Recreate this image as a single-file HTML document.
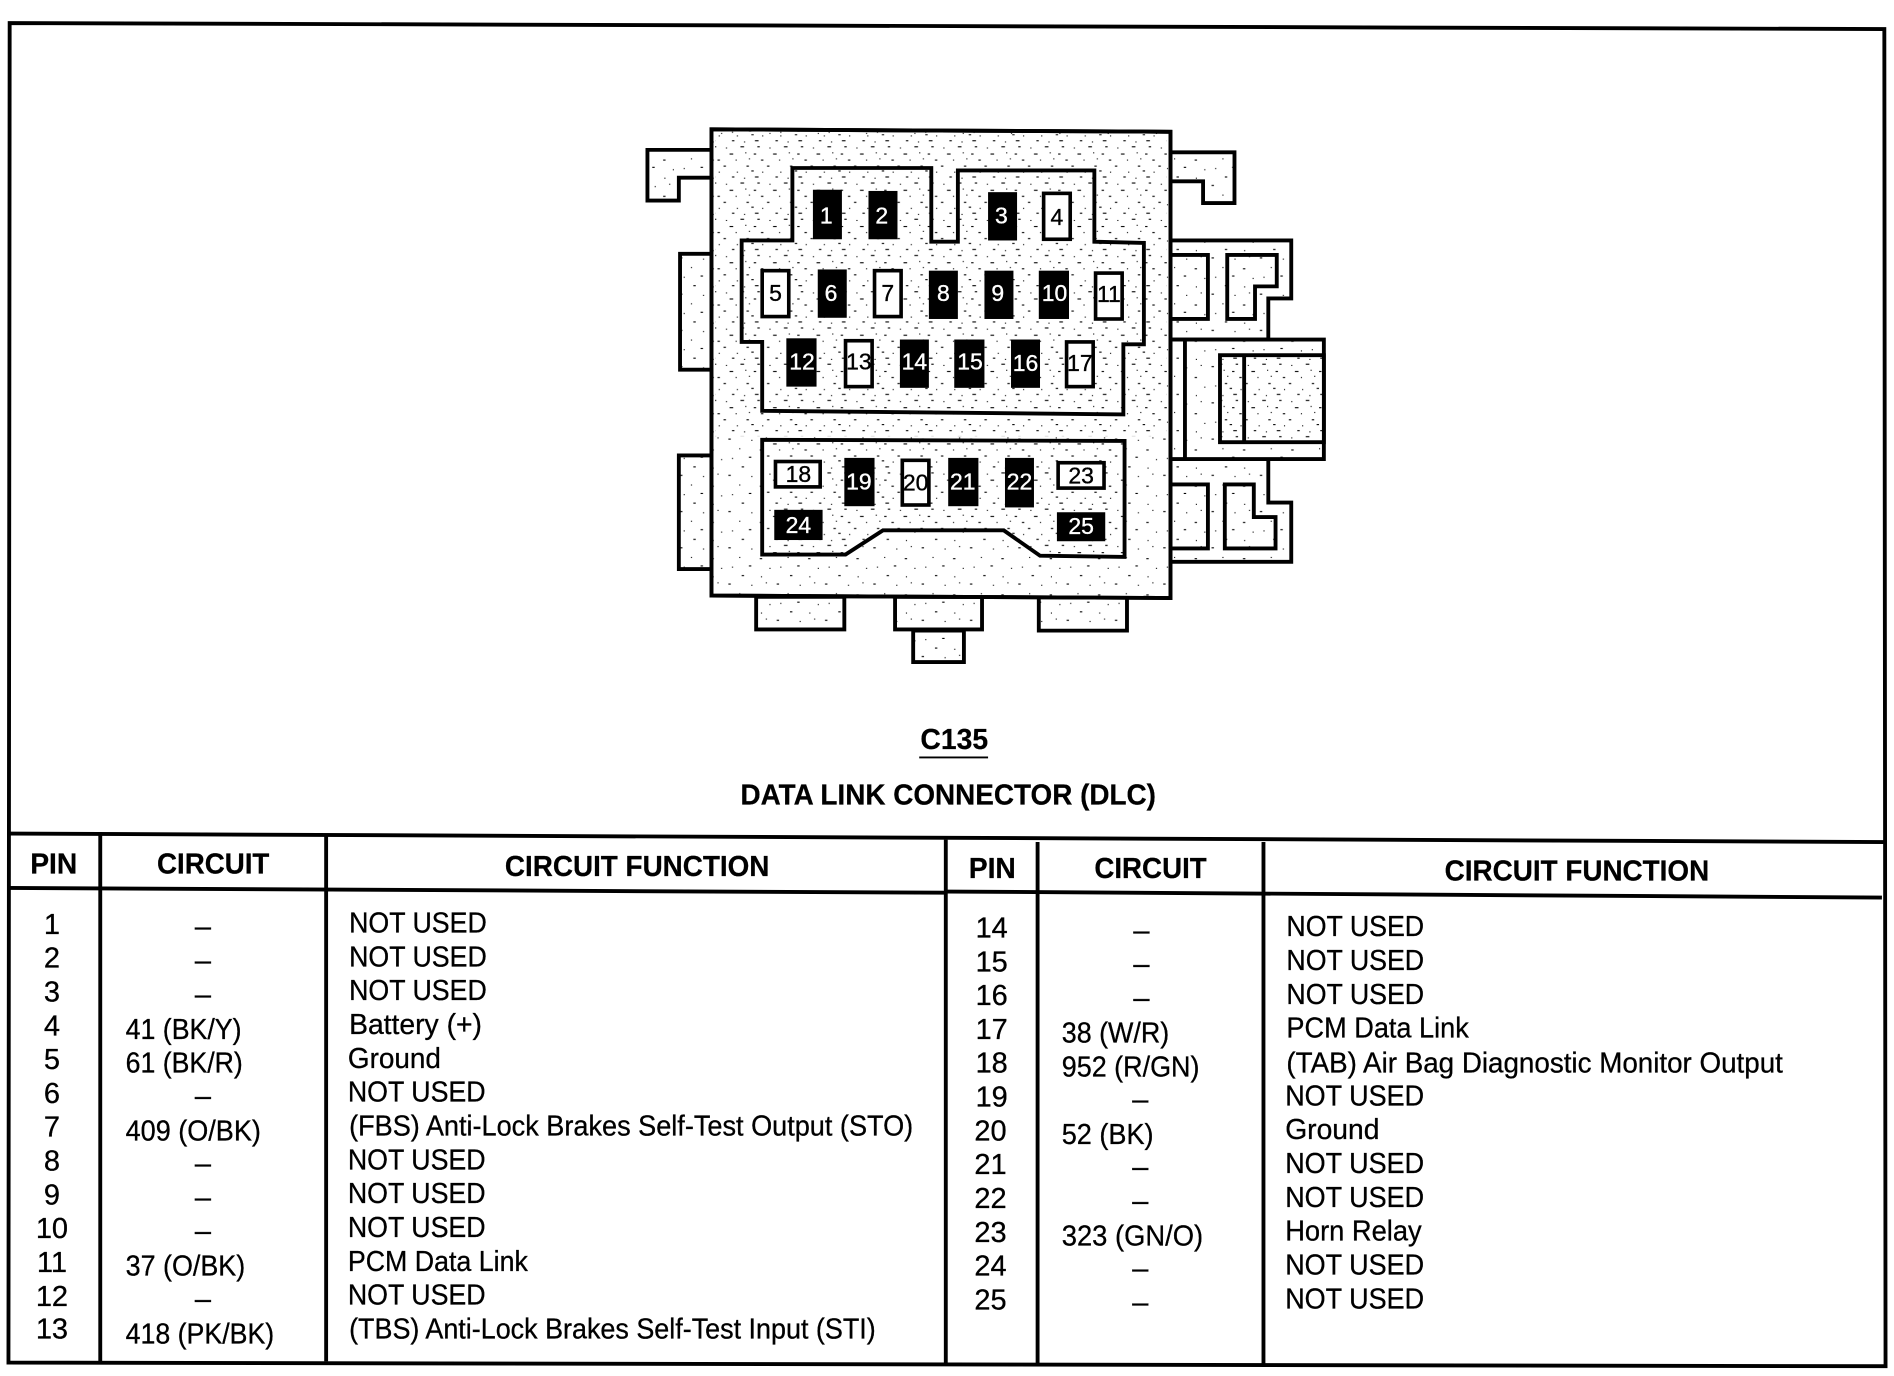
<!DOCTYPE html>
<html><head><meta charset="utf-8"><title>C135 Data Link Connector</title>
<style>
html,body{margin:0;padding:0;background:#fff;width:1894px;height:1376px;overflow:hidden}
svg{display:block}
text{font-family:"Liberation Sans",sans-serif;fill:#000}
.t{font-size:24px;stroke:#000;stroke-width:.25}
.b{font-size:24px;font-weight:bold;stroke:#000;stroke-width:.2}
.m{text-anchor:middle}
.n{font-size:19px;text-anchor:middle;stroke:#000;stroke-width:.3}
.n.w{fill:#fff;stroke:#fff}
.o{fill:url(#st2);stroke:#000;stroke-width:3.2;stroke-linejoin:miter}
.c{fill:url(#st);stroke:#000;stroke-width:3.2;stroke-linejoin:miter}
.l{fill:none;stroke:#000;stroke-width:3.2}
.k{fill:#000;stroke:none}
.p{fill:#fff;stroke:#000;stroke-width:3}
</style></head><body>
<svg xmlns="http://www.w3.org/2000/svg" width="1894" height="1376" viewBox="0 0 1568 1139">
<defs>
<pattern id="st" width="36" height="30" patternUnits="userSpaceOnUse">
<rect width="36" height="30" fill="#fff"/>
<g fill="#000">
<rect x="1" y="1" width="3" height=".9"/><rect x="15" y="1" width="2" height=".9"/><rect x="25" y="2" width=".9" height=".9"/>
<rect x="5" y="6" width=".9" height=".9"/><rect x="12" y="7" width="2" height=".9"/><rect x="28" y="7" width="3" height=".9"/>
<rect x="8" y="11" width=".9" height=".9"/><rect x="18" y="12" width="2" height=".9"/><rect x="33" y="12" width=".9" height=".9"/>
<rect x="6" y="17" width="2" height=".9"/><rect x="23" y="17" width="2" height=".9"/>
<rect x="10" y="21" width="2" height=".9"/><rect x="19" y="22" width=".9" height=".9"/><rect x="34" y="22" width=".9" height=".9"/>
<rect x="4" y="27" width=".9" height=".9"/><rect x="13" y="26" width="3" height=".9"/><rect x="30" y="26" width="2" height=".9"/>
</g>
</pattern>
<pattern id="st2" width="40" height="30" patternUnits="userSpaceOnUse">
<rect width="40" height="30" fill="#fff"/>
<g fill="#000">
<rect x="3" y="3" width="2" height=".9"/><rect x="22" y="4" width=".9" height=".9"/><rect x="34" y="2" width=".9" height=".9"/>
<rect x="12" y="11" width=".9" height=".9"/><rect x="29" y="12" width="2" height=".9"/>
<rect x="6" y="19" width=".9" height=".9"/><rect x="20" y="18" width="2" height=".9"/><rect x="37" y="20" width=".9" height=".9"/>
<rect x="14" y="26" width="2" height=".9"/><rect x="30" y="27" width=".9" height=".9"/>
</g>
</pattern>
</defs>

<!-- frame -->
<path class="l" d="M8 19 L1560 24 L1561 1131 L7 1128 Z"/>
<!-- table lines -->
<path class="l" d="M7 690 L1560 697"/>
<path class="l" d="M7 735 L783 739"/>
<path class="l" d="M783 738 L1558 743"/>
<path class="l" d="M83 691 V1127 M270 692 V1127 M783 695 V1128 M859 697 V1129 M1046 697 V1129"/>

<!-- outer tabs -->
<path class="o" d="M589 124 H536 V166 H562 V147 H589 Z"/>
<path class="o" d="M969 126 H1022 V168 H996 V150 H969 Z"/>
<path class="o" d="M589 210 H563 V306 H589 Z"/>
<path class="o" d="M589 377 H562 V471 H589 Z"/>
<path class="o" d="M626 494 V521 H699 V494 Z"/>
<path class="o" d="M741 494 V521 H813 V494 Z"/>
<path class="o" d="M860 494 V522 H933 V494 Z"/>
<path class="o" d="M756 522 V548 H798 V522 Z"/>

<!-- right assembly -->
<path class="o" d="M969 199 H1069 V247 H1050 V281 H969 Z"/>
<path class="o" d="M969 211 H1000 V264 H969 Z"/>
<path class="o" d="M1016 211 H1057 V237 H1039 V264 H1016 Z"/>
<path class="o" d="M969 380 H1050 V416 H1069 V465 H969 Z"/>
<path class="o" d="M969 401 H1000 V454 H969 Z"/>
<path class="o" d="M1014 401 H1038 V428 H1056 V454 H1014 Z"/>
<path class="o" d="M969 281 H1096 V380 H969 Z"/>
<path class="l" d="M981 281 V380"/>
<path class="c" d="M1010 294 H1096 V366 H1010 Z"/>
<path class="l" d="M1030 294 V366"/>

<!-- body -->
<path class="o" d="M589 107 L969 109 V495 L589 493 Z"/>
<rect x="592" y="111" width="374" height="250" fill="url(#st)"/>
<path class="l" d="M589 107 L969 109 V495 L589 493 Z"/>
<path class="c" d="M656 139 H771 V200 H793 V141 H906 V200 L947 201 V285 H930 V343 L631 340 V283 H614 V199 H656 Z"/>
<path class="c" d="M631 364 L931 365 V461 L861 460 L831 439 H731 L700 459 H631 Z"/>

<!-- pins -->
<rect class="k" x="673" y="157" width="24" height="41"/><text class="n w" x="684" y="185">1</text>
<rect class="k" x="719" y="158" width="24" height="40"/><text class="n w" x="730" y="185">2</text>
<rect class="k" x="818" y="159" width="24" height="40"/><text class="n w" x="829" y="185">3</text>
<rect class="p" x="864" y="160" width="22" height="38"/><text class="n" x="875" y="186">4</text>
<rect class="p" x="631" y="224" width="22" height="38"/><text class="n" x="642" y="249">5</text>
<rect class="k" x="677" y="223" width="24" height="40"/><text class="n w" x="688" y="249">6</text>
<rect class="p" x="724" y="224" width="22" height="38"/><text class="n" x="735" y="249">7</text>
<rect class="k" x="769" y="224" width="24" height="40"/><text class="n w" x="781" y="249">8</text>
<rect class="k" x="815" y="224" width="24" height="40"/><text class="n w" x="826" y="249">9</text>
<rect class="k" x="860" y="224" width="25" height="40"/><text class="n w" x="873" y="249">10</text>
<rect class="p" x="907" y="226" width="22" height="38"/><text class="n" x="918" y="250">11</text>
<rect class="k" x="651" y="280" width="25" height="40"/><text class="n w" x="664" y="306">12</text>
<rect class="k" x="745" y="281" width="24" height="40"/><text class="n w" x="757" y="306">14</text>
<rect class="k" x="790" y="281" width="25" height="40"/><text class="n w" x="803" y="306">15</text>
<rect class="k" x="837" y="281" width="24" height="40"/><text class="n w" x="849" y="307">16</text>
<rect class="p" x="700" y="282" width="22" height="38"/><text class="n" x="711" y="306">13</text>
<rect class="p" x="883" y="283" width="22" height="37"/><text class="n" x="894" y="307">17</text>
<rect class="p" x="642" y="382" width="37" height="21"/><text class="n" x="661" y="399">18</text>
<rect class="k" x="699" y="379" width="25" height="40"/><text class="n w" x="711" y="405">19</text>
<rect class="p" x="747" y="381" width="22" height="37"/><text class="n" x="758" y="406">20</text>
<rect class="k" x="785" y="379" width="25" height="40"/><text class="n w" x="797" y="405">21</text>
<rect class="k" x="832" y="379" width="24" height="41"/><text class="n w" x="844" y="405">22</text>
<rect class="p" x="876" y="383" width="38" height="21"/><text class="n" x="895" y="400">23</text>
<rect class="k" x="641" y="422" width="40" height="25"/><text class="n w" x="661" y="441">24</text>
<rect class="k" x="875" y="424" width="40" height="24"/><text class="n w" x="895" y="442">25</text>

<!-- titles -->
<text class="b" x="762" y="620" textLength="56" lengthAdjust="spacingAndGlyphs">C135</text>
<path d="M761 627 H818" stroke="#000" stroke-width="1.6"/>
<text class="b" x="613" y="666" textLength="344" lengthAdjust="spacingAndGlyphs">DATA LINK CONNECTOR (DLC)</text>

<!-- headers -->
<text class="b" x="25" y="723" textLength="39" lengthAdjust="spacingAndGlyphs">PIN</text>
<text class="b" x="130" y="723" textLength="93" lengthAdjust="spacingAndGlyphs">CIRCUIT</text>
<text class="b" x="418" y="725" textLength="219" lengthAdjust="spacingAndGlyphs">CIRCUIT FUNCTION</text>
<text class="b" x="802" y="727" textLength="39" lengthAdjust="spacingAndGlyphs">PIN</text>
<text class="b" x="906" y="727" textLength="93" lengthAdjust="spacingAndGlyphs">CIRCUIT</text>
<text class="b" x="1196" y="729" textLength="219" lengthAdjust="spacingAndGlyphs">CIRCUIT FUNCTION</text>

<!-- left pins -->
<text class="t m" x="43" y="773">1</text><text class="t m" x="43" y="801">2</text><text class="t m" x="43" y="829">3</text><text class="t m" x="43" y="857">4</text><text class="t m" x="43" y="885">5</text><text class="t m" x="43" y="913">6</text><text class="t m" x="43" y="941">7</text><text class="t m" x="43" y="969">8</text><text class="t m" x="43" y="997">9</text><text class="t m" x="43" y="1025">10</text><text class="t m" x="43" y="1053">11</text><text class="t m" x="43" y="1081">12</text><text class="t m" x="43" y="1108">13</text>
<!-- left circuits -->
<text class="t m" x="168" y="775">–</text><text class="t m" x="168" y="803">–</text><text class="t m" x="168" y="831">–</text>
<text class="t" x="104" y="860" textLength="96" lengthAdjust="spacingAndGlyphs">41 (BK/Y)</text>
<text class="t" x="104" y="888" textLength="97" lengthAdjust="spacingAndGlyphs">61 (BK/R)</text>
<text class="t m" x="168" y="915">–</text>
<text class="t" x="104" y="944" textLength="112" lengthAdjust="spacingAndGlyphs">409 (O/BK)</text>
<text class="t m" x="168" y="971">–</text><text class="t m" x="168" y="999">–</text><text class="t m" x="168" y="1027">–</text>
<text class="t" x="104" y="1056" textLength="99" lengthAdjust="spacingAndGlyphs">37 (O/BK)</text>
<text class="t m" x="168" y="1083">–</text>
<text class="t" x="104" y="1112" textLength="123" lengthAdjust="spacingAndGlyphs">418 (PK/BK)</text>
<!-- left functions -->
<text class="t" x="289" y="772" textLength="114" lengthAdjust="spacingAndGlyphs">NOT USED</text>
<text class="t" x="289" y="800" textLength="114" lengthAdjust="spacingAndGlyphs">NOT USED</text>
<text class="t" x="289" y="828" textLength="114" lengthAdjust="spacingAndGlyphs">NOT USED</text>
<text class="t" x="289" y="856" textLength="110" lengthAdjust="spacingAndGlyphs">Battery (+)</text>
<text class="t" x="288" y="884" textLength="77" lengthAdjust="spacingAndGlyphs">Ground</text>
<text class="t" x="288" y="912" textLength="114" lengthAdjust="spacingAndGlyphs">NOT USED</text>
<text class="t" x="289" y="940" textLength="467" lengthAdjust="spacingAndGlyphs">(FBS) Anti-Lock Brakes Self-Test Output (STO)</text>
<text class="t" x="288" y="968" textLength="114" lengthAdjust="spacingAndGlyphs">NOT USED</text>
<text class="t" x="288" y="996" textLength="114" lengthAdjust="spacingAndGlyphs">NOT USED</text>
<text class="t" x="288" y="1024" textLength="114" lengthAdjust="spacingAndGlyphs">NOT USED</text>
<text class="t" x="288" y="1052" textLength="149" lengthAdjust="spacingAndGlyphs">PCM Data Link</text>
<text class="t" x="288" y="1080" textLength="114" lengthAdjust="spacingAndGlyphs">NOT USED</text>
<text class="t" x="289" y="1108" textLength="436" lengthAdjust="spacingAndGlyphs">(TBS) Anti-Lock Brakes Self-Test Input (STI)</text>

<!-- right pins -->
<text class="t m" x="821" y="776">14</text><text class="t m" x="821" y="804">15</text><text class="t m" x="821" y="832">16</text><text class="t m" x="821" y="860">17</text><text class="t m" x="821" y="888">18</text><text class="t m" x="821" y="916">19</text><text class="t m" x="820" y="944">20</text><text class="t m" x="820" y="972">21</text><text class="t m" x="820" y="1000">22</text><text class="t m" x="820" y="1028">23</text><text class="t m" x="820" y="1056">24</text><text class="t m" x="820" y="1084">25</text>
<!-- right circuits -->
<text class="t m" x="945" y="778">–</text><text class="t m" x="945" y="806">–</text><text class="t m" x="945" y="834">–</text>
<text class="t" x="879" y="863" textLength="89" lengthAdjust="spacingAndGlyphs">38 (W/R)</text>
<text class="t" x="879" y="891" textLength="114" lengthAdjust="spacingAndGlyphs">952 (R/GN)</text>
<text class="t m" x="944" y="918">–</text>
<text class="t" x="879" y="947" textLength="76" lengthAdjust="spacingAndGlyphs">52 (BK)</text>
<text class="t m" x="944" y="974">–</text><text class="t m" x="944" y="1002">–</text>
<text class="t" x="879" y="1031" textLength="117" lengthAdjust="spacingAndGlyphs">323 (GN/O)</text>
<text class="t m" x="944" y="1058">–</text><text class="t m" x="944" y="1086">–</text>
<!-- right functions -->
<text class="t" x="1065" y="775" textLength="114" lengthAdjust="spacingAndGlyphs">NOT USED</text>
<text class="t" x="1065" y="803" textLength="114" lengthAdjust="spacingAndGlyphs">NOT USED</text>
<text class="t" x="1065" y="831" textLength="114" lengthAdjust="spacingAndGlyphs">NOT USED</text>
<text class="t" x="1065" y="859" textLength="151" lengthAdjust="spacingAndGlyphs">PCM Data Link</text>
<text class="t" x="1065" y="888" textLength="411" lengthAdjust="spacingAndGlyphs">(TAB) Air Bag Diagnostic Monitor Output</text>
<text class="t" x="1064" y="915" textLength="115" lengthAdjust="spacingAndGlyphs">NOT USED</text>
<text class="t" x="1064" y="943" textLength="78" lengthAdjust="spacingAndGlyphs">Ground</text>
<text class="t" x="1064" y="971" textLength="115" lengthAdjust="spacingAndGlyphs">NOT USED</text>
<text class="t" x="1064" y="999" textLength="115" lengthAdjust="spacingAndGlyphs">NOT USED</text>
<text class="t" x="1064" y="1027" textLength="113" lengthAdjust="spacingAndGlyphs">Horn Relay</text>
<text class="t" x="1064" y="1055" textLength="115" lengthAdjust="spacingAndGlyphs">NOT USED</text>
<text class="t" x="1064" y="1083" textLength="115" lengthAdjust="spacingAndGlyphs">NOT USED</text>
</svg>
</body></html>
